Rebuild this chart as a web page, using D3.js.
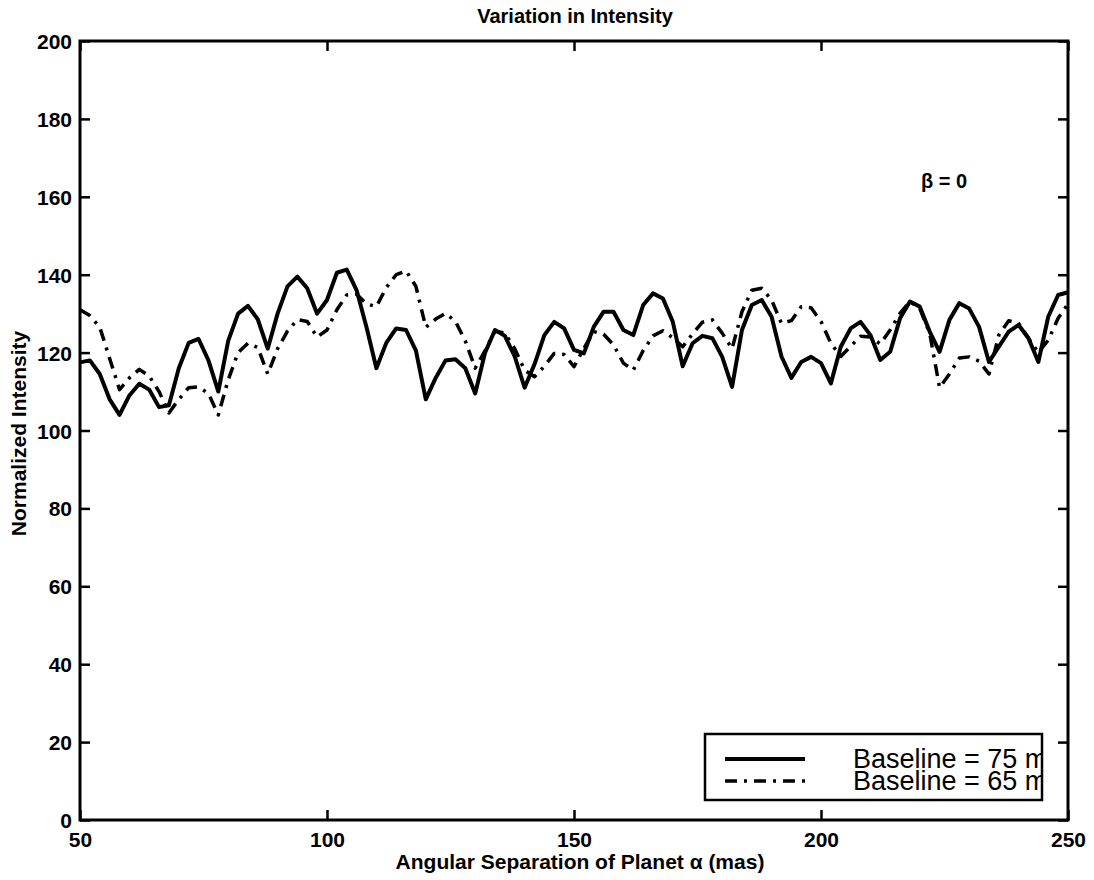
<!DOCTYPE html>
<html>
<head>
<meta charset="utf-8">
<script src="https://cdn.jsdelivr.net/npm/d3@7"></script>
<style>
  html, body { margin: 0; padding: 0; background: #fff; }
  svg { display: block; font-family: "Liberation Sans", Arial, Helvetica, sans-serif; }
</style>
</head>
<body>
<svg id="chart" width="1094" height="880"></svg>
<script>
// ---------- data ----------
const title = "Variation in Intensity";
const xLabel = "Angular Separation of Planet \u03b1 (mas)";
const yLabel = "Normalized Intensity";
const annotation = "\u03b2 = 0";
const seriesNames = ["Baseline = 75 m", "Baseline = 65 m"];

const xTicks = [50, 100, 150, 200, 250];
const yTicks = [0, 20, 40, 60, 80, 100, 120, 140, 160, 180, 200];

const alpha = [50,52,54,56,58,60,62,64,66,68,70,72,74,76,78,80,82,84,86,88,
  90,92,94,96,98,100,102,104,106,108,110,112,114,116,118,120,122,124,126,128,
  130,132,134,136,138,140,142,144,146,148,150,152,154,156,158,160,162,164,166,168,
  170,172,174,176,178,180,182,184,186,188,190,192,194,196,198,200,202,204,206,208,
  210,212,214,216,218,220,222,224,226,228,230,232,234,236,238,240,242,244,246,248,250];

const baseline75 = [117.5,118,114.5,108,104,109,112,110.5,106,106.5,116,122.5,123.5,118,110,123,130,132,128.5,121,
  130,137,139.5,136.5,130,133.5,140.5,141.3,136,126.5,116,122.5,126.2,125.8,120.5,108,113.5,118,118.3,116,
  109.5,120,125.8,124.3,119,111,117,124.5,127.9,126.2,120.7,119.8,126.6,130.5,130.5,125.8,124.5,132.2,135.2,133.9,
  127.9,116.5,122.4,124.3,123.7,118.9,111.2,125.8,132.2,133.5,129.2,119,113.5,117.6,118.9,117.3,112.1,121.5,126.2,127.9,
  124.5,118.1,120.2,128.8,133.1,131.8,125.4,120.2,128.4,132.7,131.3,126.6,117.6,121.5,125.4,127.1,123.7,117.6,129.2,134.8,135.5];

const baseline65 = [131,129.5,126.5,118.5,110.5,113.5,115.7,114,110,104.5,108,111,111.2,109.5,104,113,120,122.4,121.3,114.5,
  121,125.5,128.5,128,124,125.8,131,134.8,135,132.5,131.8,136.7,140,141,137,126.5,128.6,130.1,128,123,
  116,120.5,125.5,125,121,115.5,113.8,116.5,119.8,119.5,116.4,121.1,125.4,124.7,122,117.3,115.5,120.5,124.3,125.6,
  123.8,121.5,124.8,127.8,128.4,125,121,130.5,136,136.5,133.5,127.5,128.2,131.8,131.5,128,122.4,119,121.6,124.2,
  124,122.2,125.8,130.1,133.1,131.3,125,111,114.5,118.6,118.9,117.8,114.5,124.5,128.2,127.5,123.7,120,123.2,128.8,132.5];

// ---------- layout ----------
const svg = d3.select("#chart");
const L = 80, T = 41, R = 1068, B = 820;
const x = d3.scaleLinear().domain([50, 250]).range([L, R]);
const y = d3.scaleLinear().domain([0, 200]).range([B, T]);

const tickFont = 21, labelFont = 21;
const tickLen = 10;
const g = svg.append("g");

const axBottom = g.append("g").attr("transform", `translate(0,${B})`)
  .call(d3.axisBottom(x).tickValues(xTicks).tickSize(-tickLen).tickPadding(12).tickFormat(d3.format("d")));
const axTop = g.append("g").attr("transform", `translate(0,${T})`)
  .call(d3.axisTop(x).tickValues(xTicks).tickSize(-tickLen).tickFormat(""));
const axLeft = g.append("g").attr("transform", `translate(${L},0)`)
  .call(d3.axisLeft(y).tickValues(yTicks).tickSize(-tickLen).tickPadding(8).tickFormat(d3.format("d")));
const axRight = g.append("g").attr("transform", `translate(${R},0)`)
  .call(d3.axisRight(y).tickValues(yTicks).tickSize(-tickLen).tickFormat(""));

[axBottom, axTop, axLeft, axRight].forEach(a => {
  a.select(".domain").remove();
  a.selectAll(".tick line").attr("stroke", "#000").attr("stroke-width", 2.5);
  a.selectAll(".tick text").attr("fill", "#000").attr("font-size", tickFont)
    .attr("font-weight", "bold").attr("font-family", "'Liberation Sans', Arial, sans-serif");
});
axLeft.selectAll(".tick text").attr("dy", "0.36em");
axBottom.selectAll(".tick text").attr("dy", "0.71em");

g.append("rect").attr("x", L).attr("y", T).attr("width", R - L).attr("height", B - T)
  .attr("fill", "none").attr("stroke", "#000").attr("stroke-width", 3);

// ---------- lines ----------
const line = d3.line().x((d, i) => x(alpha[i])).y(d => y(d));

g.append("path").datum(baseline65)
  .attr("d", line).attr("fill", "none").attr("stroke", "#000")
  .attr("stroke-width", 3.5).attr("stroke-dasharray", "12,7,3,7").attr("stroke-linejoin", "round");

g.append("path").datum(baseline75)
  .attr("d", line).attr("fill", "none").attr("stroke", "#000")
  .attr("stroke-width", 4).attr("stroke-linejoin", "round");

// ---------- texts ----------
svg.append("text").attr("x", 575).attr("y", 23).attr("text-anchor", "middle")
  .attr("font-size", 20).attr("font-weight", "bold").text(title);

svg.append("text").attr("x", 580).attr("y", 869).attr("text-anchor", "middle")
  .attr("font-size", labelFont).attr("font-weight", "bold").text(xLabel);

svg.append("text").attr("transform", `translate(26,${(T + B) / 2 + 3}) rotate(-90)`)
  .attr("text-anchor", "middle").attr("font-size", labelFont).attr("font-weight", "bold").text(yLabel);

svg.append("text").attr("x", 921).attr("y", 188)
  .attr("font-size", 20).attr("font-weight", "bold").text(annotation);

// ---------- legend ----------
const lg = { x: 705, y: 734, w: 337, h: 66 };
svg.append("clipPath").attr("id", "legclip").append("rect")
  .attr("x", lg.x).attr("y", lg.y).attr("width", lg.w).attr("height", lg.h);
const legBg = svg.append("rect").attr("x", lg.x).attr("y", lg.y).attr("width", lg.w).attr("height", lg.h)
  .attr("fill", "#fff");
const legClip = svg.append("g").attr("clip-path", "url(#legclip)");
const leg = svg.append("g");
const legStyles = [{ dash: null, w: 4 }, { dash: "12,7,3,7", w: 3.5 }];
const legY = [759, 781];
const legTextY = [768, 790];
seriesNames.forEach((name, i) => {
  const l = leg.append("line").attr("x1", 725).attr("x2", 805)
    .attr("y1", legY[i]).attr("y2", legY[i])
    .attr("stroke", "#000").attr("stroke-width", legStyles[i].w);
  if (legStyles[i].dash) l.attr("stroke-dasharray", legStyles[i].dash);
  legClip.append("text").attr("x", 853).attr("y", legTextY[i])
    .attr("font-size", 27).text(name);
});
leg.append("rect").attr("x", lg.x).attr("y", lg.y).attr("width", lg.w).attr("height", lg.h)
  .attr("fill", "none").attr("stroke", "#000").attr("stroke-width", 2.5);
</script>
</body>
</html>
